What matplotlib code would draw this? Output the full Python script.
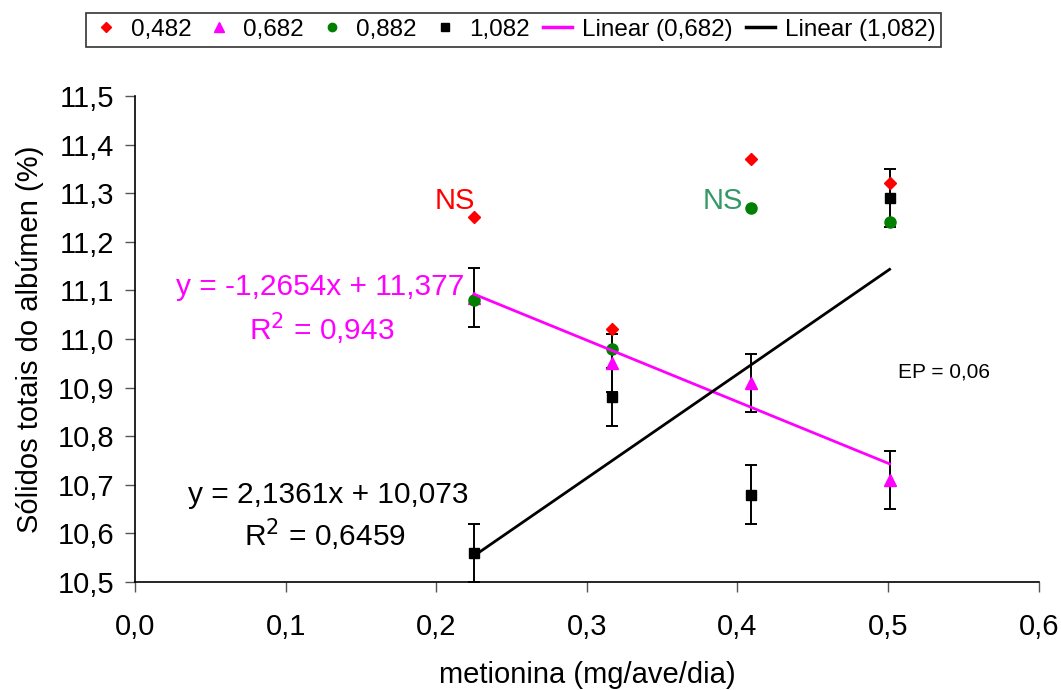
import numpy as np
import matplotlib

matplotlib.use("Agg")
from matplotlib import pyplot as plt
from matplotlib.lines import Line2D

plt.rcParams["font.family"] = ["Liberation Sans", "DejaVu Sans"]

# ---------- dati ----------
metionina = [0.225, 0.317, 0.409, 0.501]
s0482 = [11.25, 11.02, 11.37, 11.32]
s0682 = [11.085, 10.95, 10.91, 10.71]
s0882 = [11.08, 10.98, 11.27, 11.24]
s1082 = [10.56, 10.88, 10.68, 11.29]
ep = 0.06

# coefficienti delle linee di tendenza (come stampati nel grafico)
fit_0682 = (-1.2654, 11.377)
fit_1082 = (2.1361, 10.073)

MAG = "#ff00ff"

fig = plt.figure(figsize=(10.61, 6.90), dpi=100)
ax = fig.add_axes([0.1272, 0.1565, 0.979 - 0.1272, 0.861 - 0.1565])

x = np.array(metionina)

# barre di errore (solo serie con tendenza)
ax.errorbar(x, s0682, yerr=ep, fmt="none", ecolor="black", elinewidth=1.4,
            capsize=4.5, capthick=1.4, zorder=2)
ax.errorbar(x, s1082, yerr=ep, fmt="none", ecolor="black", elinewidth=1.4,
            capsize=4.5, capthick=1.4, zorder=2)

ax.plot(x, s0482, "D", color="#ff0000", ms=6.5, ls="none", zorder=3)
ax.plot(x, s0682, "^", color=MAG, ms=8, ls="none", zorder=3)
ax.plot(x, s0882, "o", color="#008000", ms=8, ls="none", zorder=3)
ax.plot(x, s1082, "s", color="black", ms=7.5, ls="none", zorder=3)

xl = np.array([x[0], x[-1]])
ax.plot(xl, fit_0682[0] * xl + fit_0682[1], color=MAG, lw=2, zorder=4)
ax.plot(xl, fit_1082[0] * xl + fit_1082[1], color="black", lw=2, zorder=4)

# assi
ax.set_xlim(0, 0.6)
ax.set_ylim(10.5, 11.5)
ax.set_xticks(np.arange(0, 0.61, 0.1))
ax.set_yticks(np.arange(10.5, 11.51, 0.1))
ax.set_xticklabels([f"{v:.1f}".replace(".", ",") for v in np.arange(0, 0.61, 0.1)])
ax.set_yticklabels([f"{v:.1f}".replace(".", ",") for v in np.arange(10.5, 11.51, 0.1)])
ax.tick_params(labelsize=21, length=7, width=1, color="#555555")
ax.tick_params(axis="x", pad=15)
ax.tick_params(axis="y", pad=8)
for s in ("top", "right"):
    ax.spines[s].set_visible(False)
for s in ("left", "bottom"):
    ax.spines[s].set_linewidth(1.2)

ax.set_xlabel("metionina (mg/ave/dia)", fontsize=21, labelpad=15)
ax.set_ylabel("Sólidos totais do albúmen (%)", fontsize=21, labelpad=10)

# annotazioni
ax.text(0.2125, 11.283, "NS", color="#ff0000", fontsize=21, ha="center", va="center")
ax.text(0.390, 11.283, "NS", color="#339966", fontsize=21, ha="center", va="center")
ax.text(0.123, 11.107, "y = -1,2654x + 11,377", color=MAG, fontsize=21.5, ha="center", va="center")
ax.text(0.124, 11.020, "R$^2$ = 0,943", color=MAG, fontsize=21.5, ha="center", va="center")
ax.text(0.128, 10.680, "y = 2,1361x + 10,073", color="black", fontsize=21.5, ha="center", va="center")
ax.text(0.126, 10.597, "R$^2$ = 0,6459", color="black", fontsize=21.5, ha="center", va="center")
ax.text(0.537, 10.932, "EP = 0,06", color="black", fontsize=15, ha="center", va="center")

# legenda
handles = [
    Line2D([], [], marker="D", color="#ff0000", ls="none", ms=5),
    Line2D([], [], marker="^", color=MAG, ls="none", ms=7),
    Line2D([], [], marker="o", color="#008000", ls="none", ms=6),
    Line2D([], [], marker="s", color="black", ls="none", ms=6),
    Line2D([], [], color=MAG, lw=2.5),
    Line2D([], [], color="black", lw=2.5),
]
labels = ["0,482", "0,682", "0,882", "1,082", "Linear (0,682)", "Linear (1,082)"]
leg = fig.legend(handles, labels, loc="center", bbox_to_anchor=(0.484, 0.957), ncol=6,
                 fontsize=17.5, frameon=True, fancybox=False, edgecolor="black",
                 handlelength=1.2, handletextpad=0.4, columnspacing=0.55,
                 borderpad=0.25, borderaxespad=0)
leg.get_frame().set_linewidth(1.2)

fig.savefig("out.png", dpi=100)
